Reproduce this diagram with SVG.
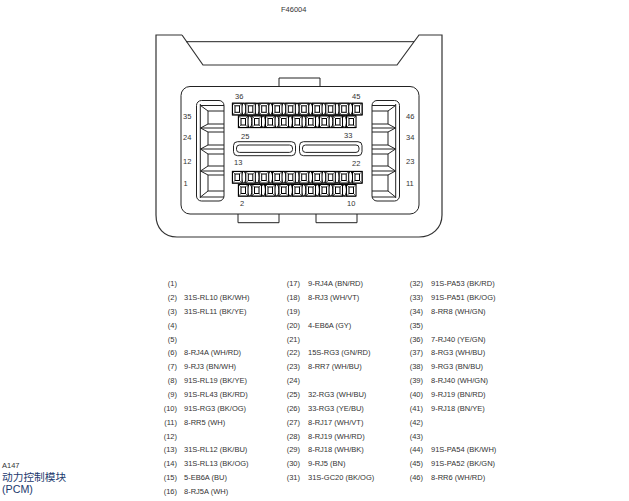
<svg xmlns="http://www.w3.org/2000/svg" width="629" height="501" viewBox="0 0 629 501">
<style>
text{font-family:"Liberation Sans",Arial,sans-serif;font-size:7.5px;fill:#333}
.n{text-anchor:end}
.s{fill:none;stroke:#222;stroke-width:1}
.o{fill:none;stroke:#333;stroke-width:1.2}
.p{fill:#fff;stroke:#000;stroke-width:1}
.f{fill:none;stroke:#000;stroke-width:1.3}
.d{fill:none;stroke:#222;stroke-width:.7}
.t{font-family:"Liberation Sans","Noto Sans CJK SC",sans-serif;font-size:10.7px;fill:#1c3a6e}
</style>
<defs>
<g id="pin">
<rect class="p" x="0.5" y="0.5" width="9.5" height="11.500"/>
<rect class="p" x="3" y="3" width="4.500" height="6.500"/>
<path class="d" d="M.5 .5L3 3M10 .5L7.500 3M.5 12L3 9.500M10 12L7.500 9.500"/>
</g>
<g id="bar">
<ellipse class="p" cx="1.700" cy="6.200" rx="2.200" ry="5.700"/>
</g>
<g id="stack">
<rect class="s" x="196.500" y="100.500" width="27.500" height="100.500" rx="5"/>
<path class="s" d="M200.300 104V198"/>
<path class="s" d="M224 105.500H200.500L208 111H224M208 111V124H224M208 124L200.500 128L208 132H224M200.500 128H224M208 132V145H224M208 145L200.500 149L208 154H224M200.500 149H224M208 154V166H224M208 166L200.500 171L208 175H224M200.500 171H224M208 175V191H224M208 191L200.500 197H224"/>
</g>
<g id="row1">
<rect class="f" x="232.500" y=".5" width="129.500" height="11.500"/>
<use href="#bar" x="242"/><use href="#bar" x="255.300"/><use href="#bar" x="268.700"/><use href="#bar" x="282"/><use href="#bar" x="295.300"/><use href="#bar" x="308.700"/><use href="#bar" x="322"/><use href="#bar" x="335.300"/><use href="#bar" x="348.700"/>
<use href="#pin" x="232"/><use href="#pin" x="245.300"/><use href="#pin" x="258.700"/><use href="#pin" x="272"/><use href="#pin" x="285.300"/><use href="#pin" x="298.700"/><use href="#pin" x="312"/><use href="#pin" x="325.300"/><use href="#pin" x="338.700"/><use href="#pin" x="352"/>
</g>
<g id="row2">
<rect class="f" x="238.500" y=".5" width="117" height="11.500"/>
<use href="#bar" x="248"/><use href="#bar" x="261.500"/><use href="#bar" x="275"/><use href="#bar" x="288.500"/><use href="#bar" x="302"/><use href="#bar" x="315.500"/><use href="#bar" x="329"/><use href="#bar" x="342.500"/>
<use href="#pin" x="238"/><use href="#pin" x="251.500"/><use href="#pin" x="265"/><use href="#pin" x="278.500"/><use href="#pin" x="292"/><use href="#pin" x="305.500"/><use href="#pin" x="319"/><use href="#pin" x="332.500"/><use href="#pin" x="346"/>
</g>
</defs>
<rect width="629" height="501" fill="#fff"/>
<text id="title" x="281" y="11.500">F46004</text>
<g id="housing">
<path class="o" d="M182 35H156V215C156 228 164 237 177 237H419C432 237 442 228 442 215V35H419L397 65H203L182 35"/>
<path class="s" d="M186 41.700H414"/>
<path class="s" d="M279 86.500V78H320V86.500M238 214V222.700H279V214M316 214V222.700H357V214"/>
<rect class="s" x="181" y="86.500" width="238" height="127.500" rx="9"/>
</g>
<g id="cavity-left"><use href="#stack"/></g>
<g id="cavity-right"><use href="#stack" transform="translate(596 0) scale(-1 1)"/></g>
<g id="pins-top"><use href="#row1" y="102.800"/><use href="#row2" y="115.500"/></g>
<g id="pins-bottom"><use href="#row1" y="171"/><use href="#row2" y="184"/></g>
<g id="slots">
<rect class="s" x="233.500" y="141.700" width="62" height="14" rx="4"/>
<rect class="s" x="236.500" y="145" width="56" height="7.400" rx="3"/>
<rect class="s" x="299.500" y="141.700" width="62.500" height="14" rx="4"/>
<rect class="s" x="302.500" y="145" width="56.500" height="7.400" rx="3"/>
</g>
<g id="pin-labels">
<text x="183" y="118.500">35</text><text x="183" y="140">24</text><text x="183" y="164">12</text><text x="183.500" y="185.500">1</text>
<text x="406" y="118.500">46</text><text x="406" y="139.500">34</text><text x="406" y="164">23</text><text x="406" y="185.500">11</text>
<text x="235" y="98.500">36</text><text x="352" y="98.500">45</text><text x="241" y="138.500">25</text><text x="344" y="138">33</text>
<text x="234" y="165">13</text><text x="352" y="165.500">22</text><text x="240" y="205.500">2</text><text x="347" y="205.500">10</text>
</g>
<g id="table-1">
<text class="n" x="177" y="286">(1)</text>
<text class="n" x="177" y="300">(2)</text><text x="184" y="300">31S-RL10 (BK/WH)</text>
<text class="n" x="177" y="313.800">(3)</text><text x="184" y="313.800">31S-RL11 (BK/YE)</text>
<text class="n" x="177" y="327.700">(4)</text>
<text class="n" x="177" y="341.500">(5)</text>
<text class="n" x="177" y="355.400">(6)</text><text x="184" y="355.400">8-RJ4A (WH/RD)</text>
<text class="n" x="177" y="369.200">(7)</text><text x="184" y="369.200">9-RJ3 (BN/WH)</text>
<text class="n" x="177" y="383.100">(8)</text><text x="184" y="383.100">91S-RL19 (BK/YE)</text>
<text class="n" x="177" y="397">(9)</text><text x="184" y="397">91S-RL43 (BK/RD)</text>
<text class="n" x="177" y="410.800">(10)</text><text x="184" y="410.800">91S-RG3 (BK/OG)</text>
<text class="n" x="177" y="424.700">(11)</text><text x="184" y="424.700">8-RR5 (WH)</text>
<text class="n" x="177" y="438.500">(12)</text>
<text class="n" x="177" y="452.400">(13)</text><text x="184" y="452.400">31S-RL12 (BK/BU)</text>
<text class="n" x="177" y="466.200">(14)</text><text x="184" y="466.200">31S-RL13 (BK/OG)</text>
<text class="n" x="177" y="480.100">(15)</text><text x="184" y="480.100">5-EB6A (BU)</text>
<text class="n" x="177" y="494">(16)</text><text x="184" y="494">8-RJ5A (WH)</text>
</g>
<g id="table-2">
<text class="n" x="300" y="286">(17)</text><text x="308" y="286">9-RJ4A (BN/RD)</text>
<text class="n" x="300" y="300">(18)</text><text x="308" y="300">8-RJ3 (WH/VT)</text>
<text class="n" x="300" y="313.800">(19)</text>
<text class="n" x="300" y="327.700">(20)</text><text x="308" y="327.700">4-EB6A (GY)</text>
<text class="n" x="300" y="341.500">(21)</text>
<text class="n" x="300" y="355.400">(22)</text><text x="308" y="355.400">15S-RG3 (GN/RD)</text>
<text class="n" x="300" y="369.200">(23)</text><text x="308" y="369.200">8-RR7 (WH/BU)</text>
<text class="n" x="300" y="383.100">(24)</text>
<text class="n" x="300" y="397">(25)</text><text x="308" y="397">32-RG3 (WH/BU)</text>
<text class="n" x="300" y="410.800">(26)</text><text x="308" y="410.800">33-RG3 (YE/BU)</text>
<text class="n" x="300" y="424.700">(27)</text><text x="308" y="424.700">8-RJ17 (WH/VT)</text>
<text class="n" x="300" y="438.500">(28)</text><text x="308" y="438.500">8-RJ19 (WH/RD)</text>
<text class="n" x="300" y="452.400">(29)</text><text x="308" y="452.400">8-RJ18 (WH/BK)</text>
<text class="n" x="300" y="466.200">(30)</text><text x="308" y="466.200">9-RJ5 (BN)</text>
<text class="n" x="300" y="480.100">(31)</text><text x="308" y="480.100">31S-GC20 (BK/OG)</text>
</g>
<g id="table-3">
<text class="n" x="423" y="286">(32)</text><text x="431" y="286">91S-PA53 (BK/RD)</text>
<text class="n" x="423" y="300">(33)</text><text x="431" y="300">91S-PA51 (BK/OG)</text>
<text class="n" x="423" y="313.800">(34)</text><text x="431" y="313.800">8-RR8 (WH/GN)</text>
<text class="n" x="423" y="327.700">(35)</text>
<text class="n" x="423" y="341.500">(36)</text><text x="431" y="341.500">7-RJ40 (YE/GN)</text>
<text class="n" x="423" y="355.400">(37)</text><text x="431" y="355.400">8-RG3 (WH/BU)</text>
<text class="n" x="423" y="369.200">(38)</text><text x="431" y="369.200">9-RG3 (BN/BU)</text>
<text class="n" x="423" y="383.100">(39)</text><text x="431" y="383.100">8-RJ40 (WH/GN)</text>
<text class="n" x="423" y="397">(40)</text><text x="431" y="397">9-RJ19 (BN/RD)</text>
<text class="n" x="423" y="410.800">(41)</text><text x="431" y="410.800">9-RJ18 (BN/YE)</text>
<text class="n" x="423" y="424.700">(42)</text>
<text class="n" x="423" y="438.500">(43)</text>
<text class="n" x="423" y="452.400">(44)</text><text x="431" y="452.400">91S-PA54 (BK/WH)</text>
<text class="n" x="423" y="466.200">(45)</text><text x="431" y="466.200">91S-PA52 (BK/GN)</text>
<text class="n" x="423" y="480.100">(46)</text><text x="431" y="480.100">8-RR6 (WH/RD)</text>
</g>
<g id="caption">
<text x="2" y="468">A147</text>
<text class="t" x="2" y="481">动力控制模块</text>
<text class="t" x="2" y="492.500">(PCM)</text>
</g>
</svg>
